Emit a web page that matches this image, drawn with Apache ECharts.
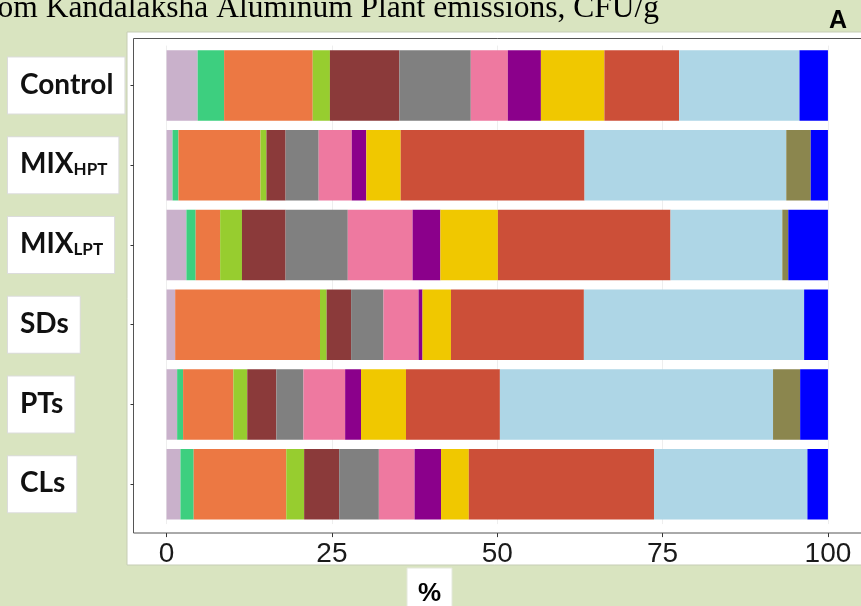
<!DOCTYPE html>
<html>
<head>
<meta charset="utf-8">
<script src="https://cdn.jsdelivr.net/npm/echarts@6/dist/echarts.min.js"></script>
<style>
  html, body { margin: 0; padding: 0; background: #d9e4c0; }
  #chart { width: 861px; height: 606px; }
</style>
</head>
<body>
<div id="chart"></div>
<script>
// Sample groups, top to bottom
const categories = ['Control', 'MIX_HPT', 'MIX_LPT', 'SDs', 'PTs', 'CLs'];

// Share (%) of each of the 13 groups, left to right, per sample
const control = [4.7, 4.0, 13.4, 2.6, 10.5, 10.8, 5.6, 5.0, 9.6, 11.3, 18.2, 0, 4.3];
const mixHpt  = [0.9, 0.9, 12.4, 0.9, 2.9, 5.0, 5.0, 2.2, 5.2, 27.8, 30.5, 3.7, 2.6];
const mixLpt  = [3.0, 1.4, 3.7, 3.3, 6.6, 9.4, 9.8, 4.2, 8.7, 26.1, 16.9, 0.9, 6.0];
const sds     = [1.3, 0, 21.9, 1.0, 3.7, 4.9, 5.3, 0.6, 4.3, 20.1, 33.3, 0, 3.6];
const pts     = [1.6, 0.9, 7.6, 2.1, 4.4, 4.1, 6.3, 2.4, 6.8, 14.2, 41.3, 4.1, 4.2];
const cls     = [2.1, 2.0, 14.0, 2.7, 5.3, 6.0, 5.4, 4.0, 4.2, 28.0, 23.2, 0, 3.1];

// x-axis tick labels
const xTicks = [0, 25, 50, 75, 100];

const groupColors = [
  '#c9b1cb', '#3dcf7f', '#ec7843', '#97cd2f', '#8b3a3a', '#808080', '#ee79a0',
  '#8b008b', '#f0c800', '#cc4f38', '#aed6e6', '#8b864e', '#0000ff'
];

const rows = [control, mixHpt, mixLpt, sds, pts, cls];
const series = groupColors.map((color, i) => ({
  name: 'Group ' + (i + 1),
  type: 'bar',
  stack: 'total',
  barCategoryGap: '11.6%',
  itemStyle: { color: color },
  emphasis: { disabled: true },
  data: rows.map(r => r[i])
}));

const chart = echarts.init(document.getElementById('chart'), null, { renderer: 'canvas' });

chart.setOption({
  backgroundColor: '#d9e4c0',
  animation: false,
  graphic: [
    { type: 'rect', z: -10, shape: { x: 127, y: 32, width: 740, height: 533 },
      style: { fill: '#ffffff', stroke: '#c6cdb5', lineWidth: 1 } },
    { type: 'rect', z: -9, shape: { x: 133.5, y: 38.5, width: 735, height: 494.5 },
      style: { fill: '#ffffff', stroke: '#555555', lineWidth: 1 } },
    { type: 'text', x: 659, y: 9,
      style: { text: 'om Kandalaksha Aluminum Plant emissions, CFU/g', align: 'right', verticalAlign: 'middle',
               font: '31.5px "Liberation Serif", "Times New Roman", serif', fill: '#000' } },
    { type: 'text', x: 838, y: 21,
      style: { text: 'A', align: 'center', verticalAlign: 'middle',
               font: 'bold 25px "Liberation Sans", Arial, sans-serif', fill: '#000' } },
    { type: 'rect', shape: { x: 407, y: 568, width: 45, height: 44 },
      style: { fill: '#ffffff', stroke: '#e4e8dc', lineWidth: 1 } },
    { type: 'text', x: 429.5, y: 594,
      style: { text: '%', align: 'center', verticalAlign: 'middle',
               font: 'bold 26px "Liberation Sans", Arial, sans-serif', fill: '#000' } }
  ],
  grid: { left: 133.5, right: 0, top: 45.6, bottom: 81.9, containLabel: false },
  xAxis: {
    type: 'value', min: -5, max: 105, offset: 9,
    axisLine: { show: false, onZero: false },
    axisTick: { show: true, length: 4, lineStyle: { color: '#333' }, customValues: xTicks },
    axisLabel: {
      margin: 7, fontSize: 28, color: '#1a1a1a',
      fontFamily: '"Liberation Sans", Arial, sans-serif',
      customValues: xTicks
    },
    splitLine: { show: true, lineStyle: { color: '#eeeeee', width: 1 } }
  },
  yAxis: {
    type: 'category', data: categories, inverse: true,
    axisLine: { show: false, onZero: false },
    axisTick: { show: true, alignWithLabel: true, length: 3, lineStyle: { color: '#333' } },
    splitLine: { show: false },
    axisLabel: {
      align: 'left', margin: 125.5,
      backgroundColor: '#ffffff', borderColor: '#dcdcdc', borderWidth: 1,
      padding: [13, 11, 15, 12],
      formatter: function (v) {
        const parts = v.split('_');
        return parts.length > 1 ? '{b|' + parts[0] + '}{s|' + parts[1] + '}' : '{b|' + v + '}';
      },
      rich: {
        b: { fontFamily: 'Lato, "Open Sans", sans-serif', fontWeight: 'bold', fontSize: 28,
             lineHeight: 28, color: '#111', verticalAlign: 'bottom' },
        s: { fontFamily: 'Lato, "Open Sans", sans-serif', fontWeight: 'bold', fontSize: 17,
             lineHeight: 8, color: '#111', verticalAlign: 'bottom' }
      }
    }
  },
  series: series
});
</script>
</body>
</html>
